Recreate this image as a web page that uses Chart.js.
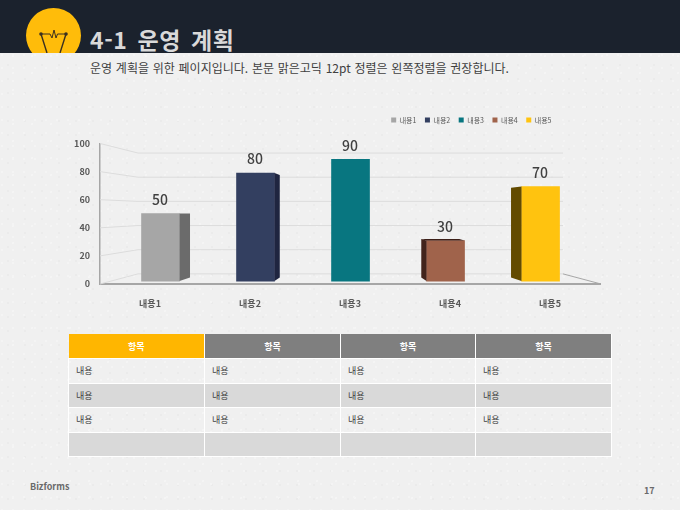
<!DOCTYPE html>
<html lang="ko"><head><meta charset="utf-8">
<script src="https://cdn.jsdelivr.net/npm/chart.js@4"></script>
<style>
html,body{margin:0;padding:0}
body{position:relative;width:680px;height:510px;overflow:hidden;font-family:"Noto Sans CJK KR","Noto Sans",sans-serif;
background-color:#f0f0f0;
background-image:radial-gradient(circle at 2px 3px,#f4f4f4 0.8px,transparent 1.2px),radial-gradient(circle at 8px 9px,#ebebeb 0.8px,transparent 1.2px),radial-gradient(circle at 13px 5px,#f4f4f4 0.7px,transparent 1.1px);
background-size:11px 13px,17px 14px,19px 17px}
#hdr{position:absolute;left:0;top:0;width:680px;height:53px;background:#1b222d;overflow:hidden}
#icon{position:absolute;left:0;top:0}
#title{position:absolute;left:90px;top:23px;font-size:23px;line-height:32px;font-weight:700;color:#d9d9d9;white-space:nowrap;letter-spacing:.6px;word-spacing:3px}
#sub{position:absolute;left:90px;top:60px;font-size:12px;line-height:16px;color:#404040;white-space:nowrap;word-spacing:.4px}
#cv{position:absolute;left:0;top:100px}
#tbl{position:absolute;left:68px;top:334px;border-collapse:collapse;table-layout:fixed;width:543px;font-size:9px;color:#404040}
#tbl th,#tbl td{border:1px solid #fff;padding:0 0 0 7px;text-align:left;font-weight:400;box-sizing:border-box}
#tbl th{height:24.500px;background:#7f7f7f;color:#fff;text-align:center;padding:0;border-top:0;border-left:0;border-right:1px solid #fff;font-weight:700}
#tbl th:first-child{background:#ffb600}
#tbl tbody tr:nth-child(even) td{background:#d9d9d9}
#tbl tbody td{height:24.500px}
#foot{position:absolute;left:30px;top:480px;font-size:9px;line-height:13px;font-weight:700;color:#6a6a6a}
#page{position:absolute;left:644px;top:484px;font-size:9px;line-height:13px;font-weight:700;color:#6a6a6a}
</style></head><body>
<div id="hdr">
<svg id="icon" width="90" height="53" viewBox="0 0 90 53">
<circle cx="53.5" cy="35.5" r="27.5" fill="#ffbc0a"/>
<g fill="none" stroke="#3a3020" stroke-width="1.4"><path d="M41 34L47 53M66 34L60 53"/><path d="M41 34H50L52 38L54 30L56 38L57.500 34H66" stroke-width="1"/></g>
<circle cx="41" cy="34" r="1.8" fill="#3a3020"/><circle cx="66" cy="34" r="1.8" fill="#3a3020"/>
</svg>
<div id="title"></div>
</div>
<div id="sub"></div>
<canvas id="cv" width="680" height="220" style="width:680px;height:220px"></canvas>
<table id="tbl"><colgroup><col style="width:136px"><col style="width:136px"><col style="width:135px"><col style="width:136px"></colgroup><thead><tr id="th"></tr></thead><tbody id="tb"></tbody></table>
<div id="foot"></div><div id="page"></div>
<script>
const titleText = "4-1 운영 계획";
const subText = "운영 계획을 위한 페이지입니다. 본문 맑은고딕 12pt 정렬은 왼쪽정렬을 권장합니다.";
const footText = "Bizforms";
const pageText = "17";
const categories = ["내용1","내용2","내용3","내용4","내용5"];
const values = [50,80,90,30,70];
const barColors = ["#a6a6a6","#333f60","#087680","#a0634b","#ffc30f"];
const sideColors = ["#6b6b6b","#1f2540","#065058","#42241c","#634b00"];
const topColors = ["#8c8c8c","#262f4c","#065a62","#3c1f18","#8a6a00"];
const yTicks = [0,20,40,60,80,100];
const tableHead = ["항목","항목","항목","항목"];
const tableRows = [["내용","내용","내용","내용"],["내용","내용","내용","내용"],["내용","내용","내용","내용"],["","","",""]];

document.getElementById("title").textContent = titleText;
document.getElementById("sub").textContent = subText;
document.getElementById("foot").textContent = footText;
document.getElementById("page").textContent = pageText;
tableHead.forEach(t=>{const e=document.createElement("th");e.textContent=t;document.getElementById("th").appendChild(e);});
tableRows.forEach(r=>{const tr=document.createElement("tr");r.forEach(t=>{const e=document.createElement("td");e.textContent=t;tr.appendChild(e);});document.getElementById("tb").appendChild(tr);});

const FONT = '"Noto Sans CJK KR","Noto Sans",sans-serif';

const wall = {
  id:"wall",
  beforeDatasetsDraw(chart){
    const c=chart.ctx, s=chart.scales, left=s.y.right, backL=left+38, backR=563, floorR=601;
    c.save(); c.lineWidth=1; c.strokeStyle="#dcdcdc";
    yTicks.forEach(v=>{
      const yf=s.y.getPixelForValue(v), yb=s.yBack.getPixelForValue(v);
      c.beginPath(); c.moveTo(left,yf); c.lineTo(backL,yb); c.lineTo(backR,yb); c.stroke();
    });
    const yb0=s.yBack.getPixelForValue(0), yf0=s.y.getPixelForValue(0);
    c.strokeStyle="#a6a6a6"; c.beginPath(); c.moveTo(backR,yb0); c.lineTo(floorR,yf0); c.stroke();
    c.restore();
  },
  afterDatasetsDraw(chart){
    const c=chart.ctx, meta=chart.getDatasetMeta(0);
    const midX=(meta.data[0].x+meta.data[4].x)/2, halfSpan=(meta.data[4].x-meta.data[0].x)/2;
    const refTop=112;
    c.save();
    meta.data.forEach((b,i)=>{
      const w=b.width, l=b.x-w/2, r=b.x+w/2;
      const d=(midX-b.x)/halfSpan*10.5;
      const ex=d>=0?r:l;
      const dyT=-(b.y-refTop)*0.05, dyB=-(b.base-refTop)*0.05;
      if(Math.abs(d)>0.5){
        c.fillStyle=sideColors[i];
        c.beginPath();c.moveTo(ex,b.y);c.lineTo(ex+d,b.y+dyT);c.lineTo(ex+d,b.base+dyB);c.lineTo(ex,b.base);c.closePath();c.fill();
      }
      if(dyT<-0.3){
        c.fillStyle=topColors[i];
        c.beginPath();c.moveTo(l,b.y);c.lineTo(l+d,b.y+dyT);c.lineTo(r+d,b.y+dyT);c.lineTo(r,b.y);c.closePath();c.fill();
      }
      c.fillStyle="#404040";c.font='500 14px '+FONT;c.textAlign="center";c.textBaseline="middle";
      c.fillText(String(values[i]),b.x-0.5,b.y-14);
    });
    c.restore();
  },
  afterLayout(chart){
    const lg=chart.legend;
    if(lg){const w=lg.right-lg.left,h=lg.bottom-lg.top;lg.right=551+9;lg.left=lg.right-w;lg.top=8;lg.bottom=8+h;}
  }
};

new Chart(document.getElementById("cv"),{
  type:"bar",
  data:{labels:categories,datasets:[{
    data:values.map((v,i)=>({x:i,y:v})),
    xAxisID:"xBars",yAxisID:"yBars",
    backgroundColor:barColors,barThickness:38,borderWidth:0
  }]},
  plugins:[wall],
  options:{
    responsive:false,animation:false,
    layout:{padding:{left:0,right:80,top:18,bottom:0}},
    plugins:{
      tooltip:{enabled:false},
      legend:{display:true,position:"top",align:"end",
        labels:{boxWidth:5,boxHeight:5,padding:8.500,color:"#595959",font:{size:7,family:FONT},
          generateLabels(){return categories.map((t,i)=>({text:t,fillStyle:barColors[i],strokeStyle:barColors[i],lineWidth:0,fontColor:"#595959",index:i}));}}}
    },
    scales:{
      x:{type:"category",position:"bottom",offset:true,labels:categories,
        grid:{display:false,drawTicks:false},border:{color:"#a6a6a6",width:2},
        ticks:{padding:14,color:"#595959",font:{size:9,weight:"700",family:FONT},maxRotation:0},
        afterFit(s){s.height=36;}},
      xBars:{type:"linear",display:false,offset:false,min:-0.637,max:4.626},
      y:{type:"linear",position:"left",min:0,max:100,
        grid:{display:false,drawTicks:false},border:{color:"#a6a6a6",width:1.5},
        ticks:{stepSize:20,padding:10,color:"#595959",font:{size:9,weight:"700",family:FONT}},
        afterFit(s){s.width=100;}},
      yBars:{type:"linear",display:false,min:-2.18,max:101.8},
      yBack:{type:"linear",display:false,min:-8.37,max:107.9}
    }
  }
});
</script>
</body></html>
